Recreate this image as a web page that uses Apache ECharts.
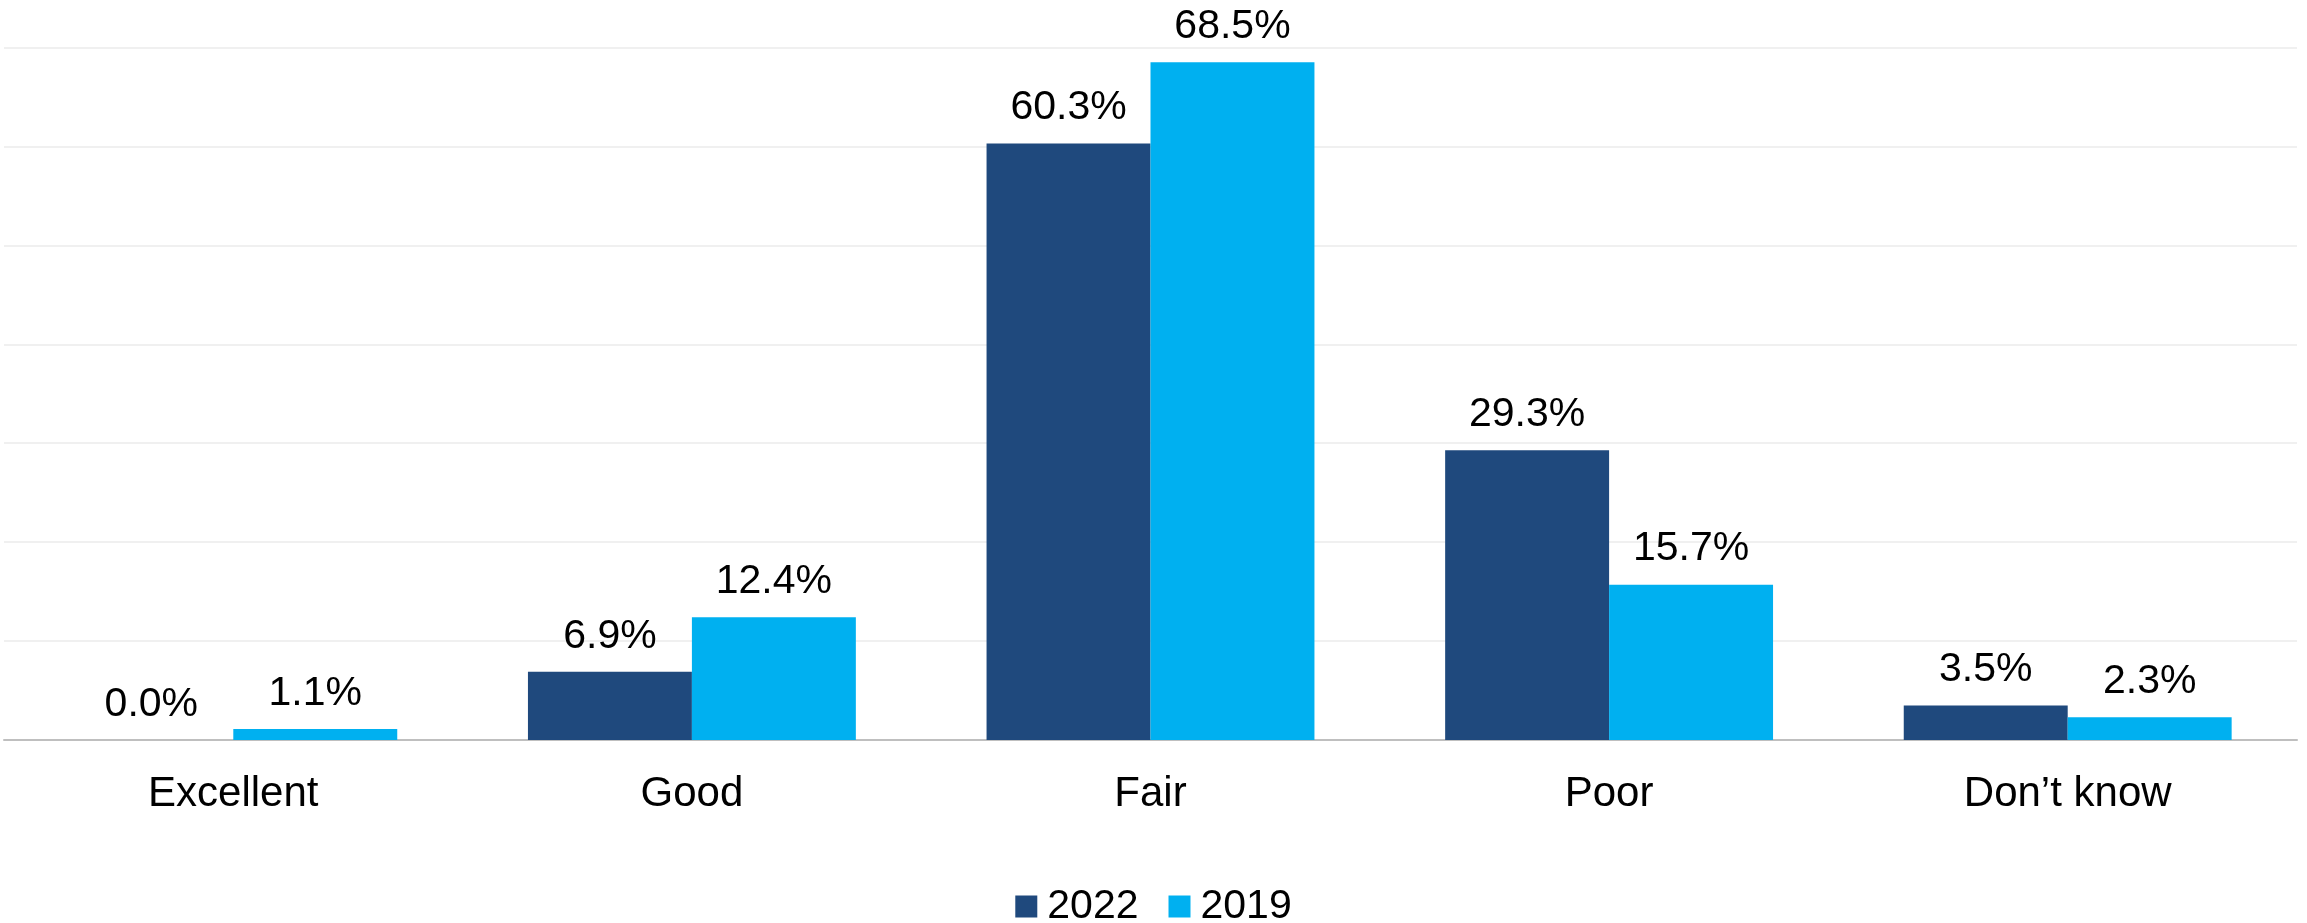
<!DOCTYPE html>
<html>
<head>
<meta charset="utf-8">
<script src="https://cdn.jsdelivr.net/npm/echarts@6/dist/echarts.min.js"></script>
<style>
html,body{margin:0;padding:0;background:#fff;}
#chart{width:2307px;height:923px;}
</style>
</head>
<body>
<div id="chart"></div>
<script>
const categories = ['Excellent', 'Good', 'Fair', 'Poor', 'Don\u2019t know'];
const seriesNames = ['2022', '2019'];
const values2022 = [0.0, 6.9, 60.3, 29.3, 3.5];
const values2019 = [1.1, 12.4, 68.5, 15.7, 2.3];
const colors = ['#1F497D', '#00B0F0'];

const font = '"Liberation Sans", Arial, sans-serif';
const chart = echarts.init(document.getElementById('chart'));

function makeSeries(name, data, color) {
  return {
    name: name,
    type: 'bar',
    data: data,
    barGap: '0%',
    barCategoryGap: '28.5%',
    itemStyle: { color: color },
    label: {
      show: true,
      position: 'top',
      distance: 15,
      color: '#000',
      fontFamily: font,
      fontSize: 41,
      formatter: p => p.value.toFixed(1) + '%'
    }
  };
}

chart.setOption({
  animation: false,
  backgroundColor: '#fff',
  grid: { left: 4, right: 10, top: 47.5, bottom: 183, containLabel: false },
  legend: {
    data: seriesNames,
    top: 881,
    left: 'center',
    itemWidth: 22,
    itemHeight: 22,
    itemGap: 30,
    icon: 'rect',
    textStyle: { fontFamily: font, fontSize: 41, color: '#000', padding: [0, 0, 0, 5] }
  },
  xAxis: {
    type: 'category',
    data: categories,
    axisLine: { show: true, lineStyle: { color: '#BFBFBF', width: 2 } },
    axisTick: { show: false },
    axisLabel: { margin: 33, fontFamily: font, fontSize: 42, color: '#000' },
    splitLine: { show: false }
  },
  yAxis: {
    type: 'value',
    min: 0,
    max: 70,
    interval: 10,
    axisLine: { show: false },
    axisTick: { show: false },
    axisLabel: { show: false },
    splitLine: { show: true, lineStyle: { color: '#F0F0F0', width: 2 } }
  },
  series: [
    makeSeries(seriesNames[0], values2022, colors[0]),
    makeSeries(seriesNames[1], values2019, colors[1])
  ]
});
</script>
</body>
</html>
